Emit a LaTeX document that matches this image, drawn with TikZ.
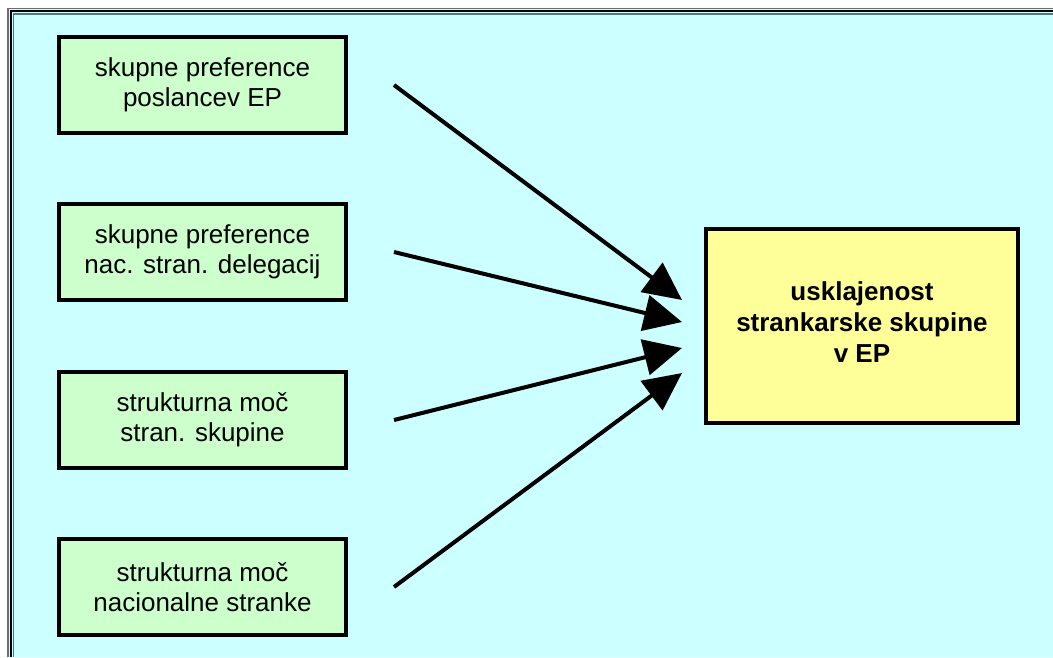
\documentclass[tikz,border=0pt]{standalone}
\usepackage{fontspec}
\setmainfont{Liberation Sans}
\usetikzlibrary{arrows.meta}
\definecolor{bgcyan}{HTML}{CCFFFF}
\definecolor{boxgreen}{HTML}{CCFFCC}
\definecolor{boxyellow}{HTML}{FFFF99}
\definecolor{framegray}{HTML}{5F7373}
\begin{document}
\begin{tikzpicture}[x=1pt,y=-1pt,
  factor/.style={draw=black, line width=4pt, fill=boxgreen,
    minimum width=287pt, minimum height=96pt, align=center,
    font=\fontsize{26}{30}\selectfont, inner sep=0pt},
  outcome/.style={draw=black, line width=4pt, fill=boxyellow,
    minimum width=312pt, minimum height=194pt, align=center,
    font=\fontsize{26}{31}\selectfont\bfseries, inner sep=0pt},
  influence/.style={line width=4pt, -{Triangle[length=38pt,width=36pt]}}]
\useasboundingbox (0,0) rectangle (1053,657);
% canvas and frame (open to the right and bottom)
\fill[white] (0,0) rectangle (1053,657);
\fill[bgcyan] (7,8) rectangle (1053,657);
\draw[framegray, line width=1.5pt] (8,657) -- (8,8.5) -- (1053,8.5);
\draw[black, line width=2pt] (10.8,657) -- (10.8,11.3) -- (1053,11.3);
\draw[framegray, line width=1.5pt] (13.3,657) -- (13.3,13.8) -- (1053,13.8);

% factor boxes
\node[factor] (f1) at (202.5,85) {skupne preference\\poslancev EP};
\node[factor] (f2) at (202.5,252) {skupne preference\\nac. stran. delegacij};
\node[factor] (f3) at (202.5,420) {strukturna moč\\stran. skupine};
\node[factor] (f4) at (202.5,587) {strukturna moč\\nacionalne stranke};

% outcome box, text set slightly above centre
\node[outcome] (out) at (862,326) {};
\node[font=\fontsize{26}{31}\selectfont\bfseries, align=center, inner sep=0pt]
  (outtext) at (862,322) {usklajenost\\strankarske skupine\\v EP};

% arrow ends
\coordinate (s1) at (394,85);
\coordinate (s2) at (394,252);
\coordinate (s3) at (394,420);
\coordinate (s4) at (394,587);
\coordinate (e1) at (682,300);
\coordinate (e2) at (682,322);
\coordinate (e3) at (682,348);
\coordinate (e4) at (682,373);

\draw[influence] (s1) -- (e1);
\draw[influence] (s2) -- (e2);
\draw[influence] (s3) -- (e3);
\draw[influence] (s4) -- (e4);
\end{tikzpicture}
\end{document}
